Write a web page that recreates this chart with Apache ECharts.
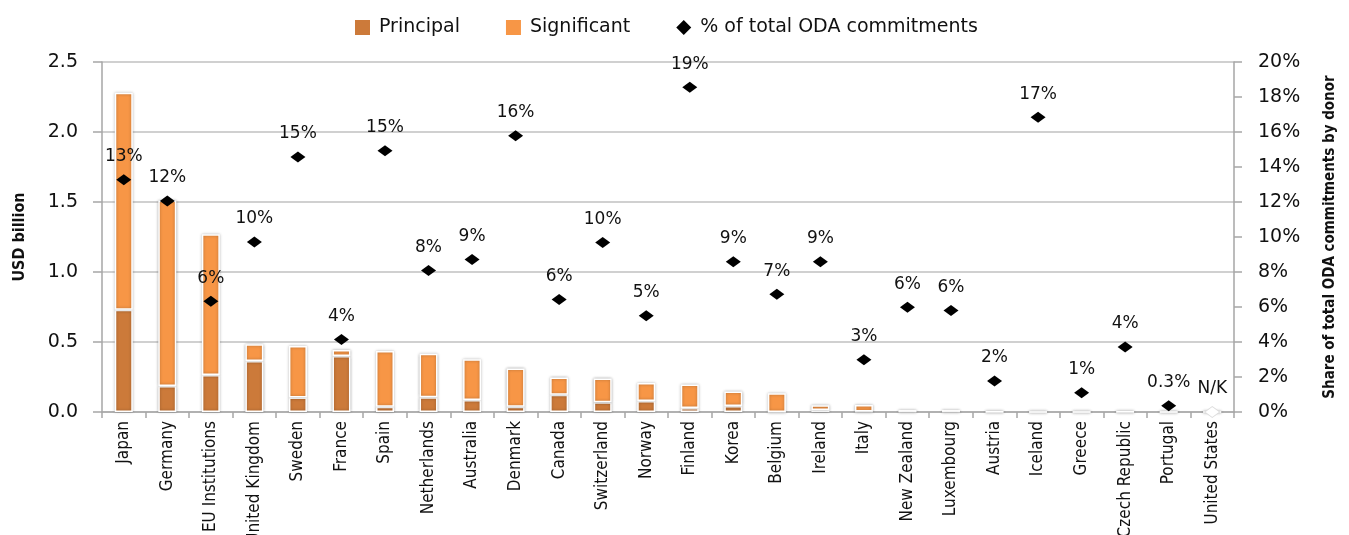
<!DOCTYPE html>
<html>
<head>
<meta charset="utf-8">
<script src="https://cdn.jsdelivr.net/npm/echarts@6/dist/echarts.min.js"></script>
<style>
  html, body { margin: 0; padding: 0; background: #fff; }
  #chart { width: 1349px; height: 535px; }
</style>
</head>
<body>
<div id="chart"></div>
<script>
const donors = ["Japan", "Germany", "EU Institutions", "United Kingdom", "Sweden", "France", "Spain",
  "Netherlands", "Australia", "Denmark", "Canada", "Switzerland", "Norway", "Finland", "Korea",
  "Belgium", "Ireland", "Italy", "New Zealand", "Luxembourg", "Austria", "Iceland", "Greece",
  "Czech Republic", "Portugal", "United States"];

// USD billion
const principal = [0.73, 0.186, 0.264, 0.364, 0.103, 0.40, 0.038, 0.106, 0.086, 0.038, 0.124, 0.069,
  0.079, 0.029, 0.043, 0, 0.015, 0.003, 0.002, 0.002, 0, 0, 0, 0, 0, 0];
const significant = [1.55, 1.324, 1.006, 0.12, 0.368, 0.043, 0.398, 0.31, 0.29, 0.272, 0.122, 0.17,
  0.128, 0.167, 0.103, 0.134, 0.033, 0.047, 0.012, 0.012, 0.002, 0.001, 0.001, 0.002, 0.001, 0];

// share of total ODA commitments, %
const share = [13.27, 12.06, 6.33, 9.72, 14.57, 4.15, 14.93, 8.08, 8.71, 15.78, 6.43, 9.68, 5.5,
  18.56, 8.58, 6.73, 8.58, 2.99, 5.99, 5.8, 1.77, 16.85, 1.1, 3.71, 0.36, 0];
const shareLabels = ["13%", "12%", "6%", "10%", "15%", "4%", "15%", "8%", "9%", "16%", "6%", "10%",
  "5%", "19%", "9%", "7%", "9%", "3%", "6%", "6%", "2%", "17%", "1%", "4%", "0.3%", "N/K"];

const leftTicks = { min: 0, max: 2.5, interval: 0.5 };
const rightTicks = { min: 0, max: 20, interval: 2 };

const narrow = "'Liberation Sans Narrow', 'DejaVu Sans Condensed', 'Open Sans', sans-serif";
const wide = "'DejaVu Sans', Verdana, sans-serif";

const barStyle = (color) => ({
  color,
  borderColor: "#ffffff",
  borderWidth: 1.5,
  shadowBlur: 3,
  shadowColor: "rgba(0,0,0,0.3)",
});

const chart = echarts.init(document.getElementById("chart"));

chart.setOption({
  backgroundColor: "#ffffff",
  animation: false,
  legend: {
    top: 13,
    left: 350,
    itemWidth: 15,
    itemHeight: 15,
    itemGap: 46,
    textStyle: { fontFamily: wide, fontSize: 19, color: "#111", padding: [0, 0, 0, 4] },
    data: [
      { name: "Principal", icon: "rect", itemStyle: { borderWidth: 0, shadowBlur: 0 } },
      { name: "Significant", icon: "rect", itemStyle: { borderWidth: 0, shadowBlur: 0 } },
      { name: "% of total ODA commitments", icon: "diamond" },
    ],
  },
  grid: { left: 102, right: 115, top: 62, bottom: 123, outerBoundsMode: "none", containLabel: false },
  xAxis: {
    type: "category",
    data: donors,
    axisLine: { lineStyle: { color: "#a6a6a6", width: 1.5 } },
    axisTick: { show: true, length: 6, alignWithLabel: false, lineStyle: { color: "#a6a6a6", width: 1.5 } },
    axisLabel: {
      rotate: 90,
      interval: 0,
      margin: 9,
      fontFamily: narrow,
      fontSize: 17,
      color: "#111",
    },
  },
  yAxis: [
    {
      type: "value",
      ...leftTicks,
      name: "USD billion",
      nameLocation: "middle",
      nameRotate: 90,
      nameGap: 74,
      nameTextStyle: { fontFamily: narrow, fontWeight: "bold", fontSize: 16, color: "#111" },
      axisLine: { show: true, lineStyle: { color: "#a6a6a6", width: 1.5 } },
      axisTick: { show: true, length: 9, lineStyle: { color: "#a6a6a6", width: 1.5 } },
      axisLabel: {
        margin: 24,
        fontFamily: wide,
        fontSize: 19,
        color: "#111",
        formatter: (v) => v.toFixed(1),
      },
      splitLine: { lineStyle: { color: "#c0c0c0", width: 1.5 } },
    },
    {
      type: "value",
      ...rightTicks,
      position: "right",
      name: "Share of total ODA commitments by donor",
      nameLocation: "middle",
      nameRotate: 90,
      nameGap: 89,
      nameTextStyle: { fontFamily: narrow, fontWeight: "bold", fontSize: 15, color: "#111" },
      axisLine: { show: true, lineStyle: { color: "#a6a6a6", width: 1.5 } },
      axisTick: { show: true, length: 8, lineStyle: { color: "#a6a6a6", width: 1.5 } },
      axisLabel: {
        margin: 24,
        fontFamily: wide,
        fontSize: 19,
        color: "#111",
        formatter: "{value}%",
      },
      splitLine: { show: false },
    },
  ],
  series: [
    {
      name: "Principal",
      type: "bar",
      stack: "usd",
      barWidth: 18,
      itemStyle: barStyle("#cc7a3a"),
      data: principal,
    },
    {
      name: "Significant",
      type: "bar",
      stack: "usd",
      barWidth: 18,
      itemStyle: barStyle("#f79646"),
      data: significant,
    },
    {
      name: "% of total ODA commitments",
      type: "scatter",
      yAxisIndex: 1,
      symbol: "diamond",
      symbolSize: [15, 11],
      z: 5,
      itemStyle: { color: "#000", opacity: 1 },
      label: {
        show: true,
        position: "top",
        distance: 9,
        fontFamily: wide,
        fontSize: 17,
        color: "#111",
        formatter: (p) => shareLabels[p.dataIndex],
      },
      data: share.map((v, i) =>
        shareLabels[i] === "N/K"
          ? { value: v, itemStyle: { color: "#fff", borderColor: "#ddd", borderWidth: 1 } }
          : v
      ),
    },
  ],
});
</script>
</body>
</html>
